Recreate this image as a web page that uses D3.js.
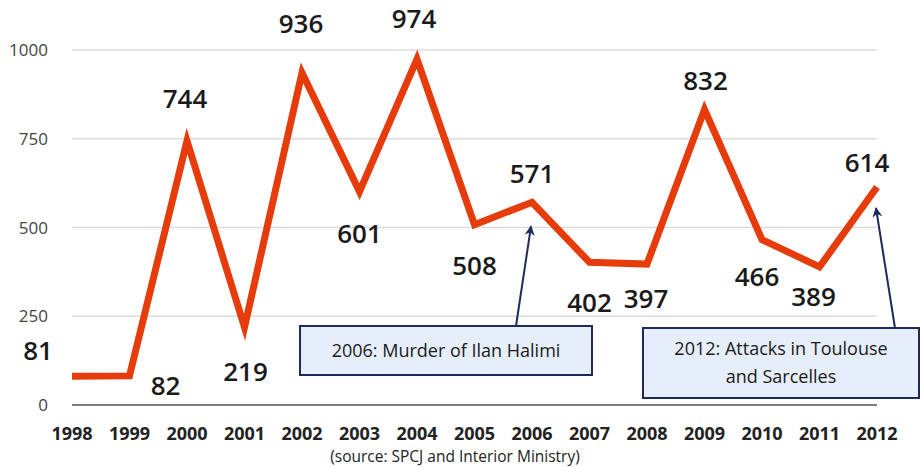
<!DOCTYPE html>
<html>
<head>
<meta charset="utf-8">
<script src="https://cdn.jsdelivr.net/npm/d3@7"></script>
<style>
  body { margin: 0; background: #fff; }
  text { font-family: "Open Sans", "Noto Sans", sans-serif; }
</style>
</head>
<body>
<script>
// data
var years = [1998, 1999, 2000, 2001, 2002, 2003, 2004, 2005, 2006, 2007, 2008, 2009, 2010, 2011, 2012];
var incidents = [81, 82, 744, 219, 936, 601, 974, 508, 571, 402, 397, 832, 466, 389, 614];
var yTicks = [0, 250, 500, 750, 1000];
var notes = [
  { year: 2006, lines: ["2006: Murder of Ilan Halimi"] },
  { year: 2012, lines: ["2012: Attacks in Toulouse", "and Sarcelles"] }
];

// label offsets (dx, dy from the point, baseline)
var labelOffset = [[-34, -16], [36, 19], [-2, -33], [1, 54], [-1, -40], [0, 51], [-3, -31], [0, 50],
  [0, -19], [0, 50], [-1, 44], [1, -20], [-5, 46], [-6, 39], [-10, -15]];

var w = 921, h = 467;
var svg = d3.select("body").append("svg").attr("width", w).attr("height", h);

var x = d3.scaleLinear().domain([1998, 2012]).range([72, 877]);
var y = d3.scaleLinear().domain([0, 1000]).range([405, 50]);

// gridlines
svg.selectAll(".grid")
  .data(yTicks.filter(function (d) { return d > 0; }))
  .enter()
  .append("line")
  .attr("x1", 72).attr("x2", 877)
  .attr("y1", function (d) { return y(d); })
  .attr("y2", function (d) { return y(d); })
  .style("stroke", "#dcdcdc")
  .style("stroke-width", 1.5);

svg.append("line")
  .attr("x1", 72).attr("x2", 877)
  .attr("y1", y(0)).attr("y2", y(0))
  .style("stroke", "#555")
  .style("stroke-width", 1.5);

// y tick labels
svg.selectAll(".ytick")
  .data(yTicks)
  .enter()
  .append("text")
  .attr("x", 48)
  .attr("y", function (d) { return y(d) + 6; })
  .attr("text-anchor", "end")
  .style("font-size", "17px")
  .style("fill", "#444")
  .text(function (d) { return d; });

// x labels
svg.selectAll(".xtick")
  .data(years)
  .enter()
  .append("text")
  .attr("x", function (d) { return x(d); })
  .attr("y", 440)
  .attr("text-anchor", "middle")
  .style("font-size", "18px")
  .style("font-weight", "bold")
  .style("fill", "#222")
  .text(function (d) { return d; });

svg.append("text")
  .attr("x", 455).attr("y", 462)
  .attr("text-anchor", "middle")
  .style("font-size", "15.5px")
  .style("fill", "#222")
  .text("(source: SPCJ and Interior Ministry)");

// line
var line = d3.line()
  .x(function (d, i) { return x(years[i]); })
  .y(function (d) { return y(d); });

svg.append("path")
  .datum(incidents)
  .attr("d", line)
  .style("fill", "none")
  .style("stroke", "#e63c0c")
  .style("stroke-width", 7)
  .style("stroke-linejoin", "miter")
  .style("stroke-miterlimit", 10);

// value labels
svg.selectAll(".val")
  .data(incidents)
  .enter()
  .append("text")
  .attr("x", function (d, i) { return x(years[i]) + labelOffset[i][0]; })
  .attr("y", function (d, i) { return y(d) + labelOffset[i][1]; })
  .attr("text-anchor", "middle")
  .style("font-size", "26px")
  .style("font-weight", 600)
  .style("fill", "#1a1a1a")
  .text(function (d) { return d; });

// annotations
svg.append("defs").append("marker")
  .attr("id", "arrow")
  .attr("viewBox", "0 0 10 10")
  .attr("refX", 9).attr("refY", 5)
  .attr("markerWidth", 5).attr("markerHeight", 6)
  .attr("orient", "auto")
  .append("path")
  .attr("d", "M0,0 L10,5 L0,10 L3,5 Z")
  .style("fill", "#1f2a5c");

var boxes = [
  { x0: 300, y0: 326, bw: 292, bh: 49, from: [516, 326], tipDy: 24, tipDx: -1 },
  { x0: 643, y0: 328, bw: 276, bh: 70, from: [895, 328], tipDy: 21, tipDx: -1 }
];

notes.forEach(function (n, k) {
  var b = boxes[k];
  var i = years.indexOf(n.year);
  var px = x(n.year) + b.tipDx, py = y(incidents[i]) + b.tipDy;
  svg.append("line")
    .attr("x1", b.from[0]).attr("y1", b.from[1])
    .attr("x2", px).attr("y2", py)
    .attr("marker-end", "url(#arrow)")
    .style("stroke", "#1f2a5c")
    .style("stroke-width", 2);
  svg.append("rect")
    .attr("x", b.x0).attr("y", b.y0)
    .attr("width", b.bw).attr("height", b.bh)
    .style("fill", "#e6eefa")
    .style("stroke", "#1f2a5c")
    .style("stroke-width", 2);
  var lh = 28;
  var top = b.y0 + b.bh / 2 - (n.lines.length - 1) * lh / 2 + 6;
  n.lines.forEach(function (t, j) {
    svg.append("text")
      .attr("x", b.x0 + b.bw / 2)
      .attr("y", top + j * lh)
      .attr("text-anchor", "middle")
      .style("font-size", "18px")
      .style("fill", "#1a1a1a")
      .text(t);
  });
});
</script>
</body>
</html>
